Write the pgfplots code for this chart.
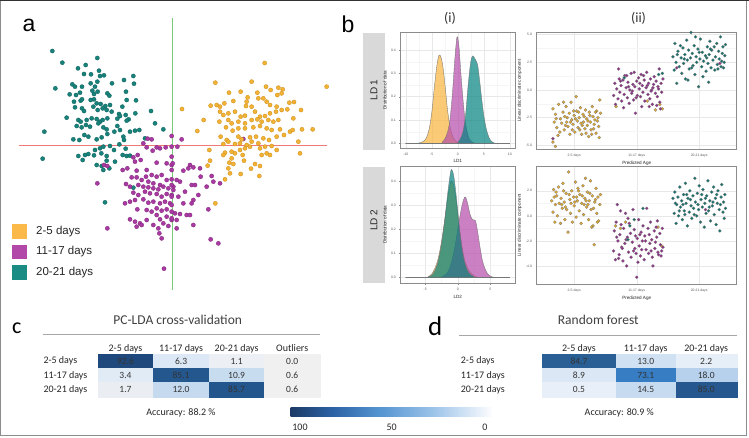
\documentclass[border=0pt]{standalone}
\usepackage{fontspec}
\setmainfont{Carlito}
\newfontfamily\arial{Liberation Sans}
\usepackage{pgfplots}
\pgfplotsset{compat=1.18}

\definecolor{lgor}{RGB}{250,185,72}
\definecolor{lgpu}{RGB}{178,73,168}
\definecolor{lgte}{RGB}{27,140,132}
\definecolor{aor}{RGB}{242,178,52}
\definecolor{aord}{RGB}{205,142,28}
\definecolor{apu}{RGB}{168,58,162}
\definecolor{apud}{RGB}{128,36,122}
\definecolor{ate}{RGB}{24,130,123}
\definecolor{ated}{RGB}{12,96,90}
\definecolor{pinkline}{RGB}{240,120,120}
\definecolor{greenline}{RGB}{120,200,120}
\definecolor{dor}{RGB}{250,180,60}
\definecolor{dpu}{RGB}{180,75,170}
\definecolor{dte}{RGB}{0,130,128}
\definecolor{sor}{RGB}{226,170,46}
\definecolor{spu}{RGB}{146,48,140}
\definecolor{ste}{RGB}{18,116,110}
\definecolor{stripgray}{RGB}{217,217,217}
% heat map cell colours, panel c
\definecolor{cA}{RGB}{31,73,125}
\definecolor{cB}{RGB}{220,232,245}
\definecolor{cC}{RGB}{236,239,243}
\definecolor{cD}{RGB}{240,240,240}
\definecolor{cE}{RGB}{225,235,246}
\definecolor{cF}{RGB}{37,87,143}
\definecolor{cG}{RGB}{200,220,240}
\definecolor{cH}{RGB}{234,237,241}
\definecolor{cI}{RGB}{198,218,239}
\definecolor{cJ}{RGB}{36,86,142}
% panel d
\definecolor{dA}{RGB}{42,95,150}
\definecolor{dB}{RGB}{208,225,243}
\definecolor{dC}{RGB}{230,238,248}
\definecolor{dD}{RGB}{220,231,245}
\definecolor{dE}{RGB}{55,125,195}
\definecolor{dF}{RGB}{183,208,236}
\definecolor{dG}{RGB}{232,239,248}
\definecolor{dH}{RGB}{198,218,240}
\definecolor{dI}{RGB}{38,88,143}

\pgfdeclarehorizontalshading{cbar}{100bp}{rgb(0bp)=(0.11,0.23,0.40); rgb(25bp)=(0.11,0.23,0.40); rgb(35bp)=(0.17,0.38,0.64); rgb(47bp)=(0.33,0.58,0.82); rgb(60bp)=(0.60,0.76,0.91); rgb(75bp)=(0.99,0.99,1); rgb(100bp)=(0.99,0.99,1)}

\pgfplotsset{
  gg/.style={scale only axis, anchor=south west,
    grid=both, major grid style={line width=0.4pt, black!9}, minor grid style={line width=0.3pt, black!4},
    axis line style={black!45, line width=0.45pt},
    tick style={black!45, line width=0.3pt}, tick align=outside,
    major tick length=1.2pt, minor tick length=0pt,
    xtick pos=bottom, ytick pos=left,
    tick label style={font=\arial\fontsize{3.4}{4}\selectfont, text=black!65},
    label style={font=\arial\fontsize{4.6}{5}\selectfont, text=black!85},
    /pgf/number format/assume math mode=true,
    xlabel style={yshift=2.2pt}, ylabel style={yshift=-2.5pt}},
  dens/.style={smooth, tension=0.5, fill opacity=0.7, draw=black!55, line width=0.35pt},
  pts/.style={only marks, mark=*, mark size=1.55pt},
  hm/.style={scale only axis, anchor=south west, ymin=0.5, ymax=3.5, height=42.7pt,
    axis line style={draw=none}, major tick length=0pt, tick style={draw=none},
    ytick={1,2,3}, yticklabels={20-21 days,11-17 days,2-5 days},
    xticklabel pos=upper,
    tick label style={font=\fontsize{10}{12}\selectfont, text=black!85},
    yticklabel style={anchor=west, inner sep=0pt},
    xticklabel style={anchor=base, inner sep=0pt, yshift=3pt},
    clip=false},
  cellb/.style={only marks, mark=square*, mark size=7.1pt, point meta=explicit symbolic,
    nodes near coords, nodes near coords align={center},
    every node near coord/.append style={font=\fontsize{9.5}{11}\selectfont, text=black!80, inner sep=0pt}}
}
\newcommand{\cell}[5]{\addplot[cellb, mark options={xscale=#1, fill=#2, draw=#2, line width=0.3pt}] coordinates {(#3,#4) [#5]};}

\begin{document}
\begin{tikzpicture}[x=1pt,y=1pt]
\useasboundingbox (0,0) rectangle (749,437);
\fill[white] (0,0) rectangle (749,437);
% horizontal reference axis of panel a
\fill[pinkline] (19,290.7) rectangle (327,291.9);

%================ panel a =================
\begin{axis}[at={(0pt,137pt)}, anchor=south west, scale only axis, width=340pt, height=300pt,
  xmin=-60, xmax=960, ymin=-120, ymax=780, y dir=reverse, hide axis, clip=false]
\addplot[fill=greenline, draw=none] coordinates {(457,-66) (459.3,-66) (459.3,750) (457,750)} -- cycle;
\addplot[only marks, mark=*, mark size=2.1pt, mark options={fill=ate, draw=ated, line width=0.3pt}] coordinates {
(97,33) (127,68) (232,54) (174,85) (197,75) (192,102) (213,103) (237,92) (240,108) (252,106)
(106,145) (157,133) (165,140) (186,140) (212,130) (232,125) (225,140) (276,130) (312,120) (340,108)
(342,131) (149,163) (168,165) (180,158) (217,152) (233,155) (222,162) (262,160) (268,167) (318,155)
(348,181) (162,185) (182,182) (186,178) (212,180) (222,178) (230,190) (242,192) (256,198) (270,195)
(320,180) (307,200) (165,202) (186,205) (192,213) (220,200) (233,210) (248,205) (260,210) (275,215)
(297,222) (317,225) (326,238) (346,220) (393,213) (140,233) (175,240) (182,245) (200,240) (215,235)
(230,237) (240,245) (248,240) (262,235) (292,236) (300,228) (320,242) (405,250) (430,268) (170,258)
(185,262) (198,255) (210,260) (235,250) (250,262) (260,268) (292,258) (300,270) (330,275) (345,272)
(358,270) (375,295) (73,275) (160,298) (178,300) (193,285) (205,290) (230,298) (245,292) (262,282)
(283,275) (310,290) (312,300) (317,326) (298,313) (250,320) (240,325) (270,318) (225,330) (205,342)
(195,345) (175,348) (188,360) (222,346) (244,340) (260,348) (282,330) (308,345) (320,348) (330,347)
(68,356) (230,375) (245,378) (260,362) (268,385) (250,390) (285,365) (255,487) (340,443)};
\addplot[only marks, mark=*, mark size=2.1pt, mark options={fill=apu, draw=apud, line width=0.3pt}] coordinates {
(383,296) (395,298) (370,310) (380,322) (410,322) (420,325) (437,322) (455,320) (398,332) (353,345)
(340,352) (345,365) (362,360) (252,375) (262,378) (308,390) (322,385) (350,392) (380,390) (410,368)
(440,370) (455,375) (335,412) (350,412) (365,420) (378,410) (395,405) (410,410) (425,405) (440,420)
(455,418) (385,425) (400,430) (420,435) (232,430) (318,432) (330,440) (355,435) (370,440) (385,442)
(400,445) (415,448) (430,440) (445,445) (460,440) (340,458) (355,465) (375,455) (390,460) (410,462)
(425,470) (440,462) (455,465) (315,490) (330,485) (345,480) (370,478) (385,488) (400,485) (420,490)
(435,485) (450,490) (352,508) (380,510) (395,515) (410,505) (425,512) (440,508) (455,515) (330,538)
(345,545) (360,550) (380,540) (410,525) (420,538) (440,530) (455,540) (350,560) (365,555) (400,555)
(415,565) (430,550) (445,558) (262,565) (418,580) (425,595) (432,686)
(455,288) (485,298) (472,320) (455,350) (458,370) (455,390) (510,375) (520,382) (505,385) (540,385)
(490,392) (542,410) (575,408) (580,425) (600,430) (560,440) (515,435) (525,435) (470,420) (480,425)
(455,435) (460,450) (495,455) (455,470) (475,470) (535,465) (520,480) (515,490) (490,490) (455,495)
(565,508) (465,520) (480,522) (500,525) (510,525) (470,540) (455,535) (520,555) (470,565) (572,598)
(595,610) (670,297)};
\addplot[only marks, mark=*, mark size=2.1pt, mark options={fill=aor, draw=aord, line width=0.3pt}] coordinates {
(734,69) (586,128) (695,125) (920,140) (627,158) (662,155) (712,158) (738,140) (752,150) (775,143)
(788,148) (785,160) (486,207) (572,197) (590,195) (600,200) (613,190) (640,183) (680,185) (678,198)
(695,200) (683,172) (715,175) (730,175) (740,185) (750,195) (770,200) (772,165) (808,188) (822,186)
(843,210) (551,240) (600,215) (610,225) (625,220) (645,215) (662,230) (675,227) (705,215) (720,230)
(735,228) (750,220) (768,215) (785,210) (802,208) (820,235) (598,245) (625,240) (635,250) (655,245)
(675,250) (695,240) (712,238) (725,245) (745,240) (760,245) (775,240) (532,273) (618,262) (638,272)
(655,265) (675,265) (700,262) (720,258) (740,265) (755,270) (780,268) (792,285) (810,275) (818,270)
(846,268) (878,268) (602,290) (620,300) (655,290) (665,298) (690,292) (708,290) (730,295) (747,300)
(770,290) (835,305) (610,312) (625,305) (645,312) (660,310) (680,315) (695,305) (715,310) (735,320)
(755,318) (568,330) (615,338) (635,335) (660,330) (675,325) (690,320) (720,325) (740,340) (770,330)
(840,340) (610,345) (635,355) (645,340) (668,345) (725,345) (750,345) (570,362) (628,368) (640,372)
(672,362) (705,372) (720,378) (563,377) (625,385) (693,386) (718,408) (630,400) (662,402) (615,418)
(586,490)};
\end{axis}
% legend of panel a
\fill[lgor] (12,198) rectangle (27,213);
\fill[lgpu] (12,178) rectangle (27,192);
\fill[lgte] (12,157) rectangle (27,172);
\node[anchor=west, inner sep=0pt, font=\arial\fontsize{11.5}{13}\selectfont, text=black!85] at (36,205) {2-5 days};
\node[anchor=west, inner sep=0pt, font=\arial\fontsize{11.5}{13}\selectfont, text=black!85] at (36,185) {11-17 days};
\node[anchor=west, inner sep=0pt, font=\arial\fontsize{11.5}{13}\selectfont, text=black!85] at (36,164) {20-21 days};
\node[anchor=base west, inner sep=0pt, font=\arial\fontsize{23}{26}\selectfont] at (22.5,405) {a};
\node[anchor=base west, inner sep=0pt, font=\arial\fontsize{23}{26}\selectfont] at (341.5,404.7) {b};

%================ panel b =================
\node[font=\fontsize{14}{16}\selectfont, text=black!80] at (450,419) {(i)};
\node[font=\fontsize{14}{16}\selectfont, text=black!80] at (638.5,419) {(ii)};
\fill[stripgray] (363,287) rectangle (385,404);
\fill[stripgray] (363,154) rectangle (385,270);
\node[rotate=90, font=\arial\fontsize{10}{12}\selectfont, text=black!85] at (374,347) {LD 1};
\node[rotate=90, font=\arial\fontsize{10}{12}\selectfont, text=black!85] at (374,217) {LD 2};

% density LD1
\begin{axis}[gg, at={(400.5pt,289pt)}, width=114.5pt, height=115.7pt,
  xmin=-11, xmax=11, ymin=-0.02, ymax=0.476,
  xtick={-10,-5,0,5,10}, ytick={0,0.1,0.2,0.3,0.4}, minor x tick num=1, minor y tick num=1,
  yticklabel style={/pgf/number format/.cd, fixed, fixed zerofill, precision=1},
  xlabel={LD1}, ylabel={Distribution of data}]
\addplot[dens, fill=dor] coordinates {(-10,0) (-8,0) (-7.5,0.001) (-7,0.004) (-6.5,0.01) (-6,0.025) (-5.5,0.06) (-5,0.13) (-4.5,0.24) (-4,0.335) (-3.6,0.378) (-3.2,0.368) (-2.8,0.32) (-2.4,0.24) (-2,0.15) (-1.6,0.085) (-1.2,0.045) (-0.8,0.022) (-0.4,0.01) (0,0.004) (0.5,0.001) (1,0) (10,0)} \closedcycle;
\addplot[dens, fill=dpu] coordinates {(-10,0) (-3.5,0) (-3,0.005) (-2.5,0.018) (-2,0.045) (-1.5,0.1) (-1,0.22) (-0.6,0.35) (-0.25,0.44) (-0.05,0.457) (0.25,0.41) (0.6,0.3) (1,0.19) (1.4,0.1) (1.8,0.05) (2.2,0.02) (2.7,0.006) (3.2,0.001) (3.7,0) (10,0)} \closedcycle;
\addplot[dens, fill=dte] coordinates {(-10,0) (-0.5,0) (0,0.005) (0.5,0.02) (1,0.05) (1.5,0.12) (2,0.25) (2.5,0.35) (2.9,0.375) (3.3,0.362) (3.8,0.338) (4.2,0.27) (4.6,0.19) (5,0.12) (5.5,0.06) (6,0.025) (6.5,0.008) (7,0.001) (7.5,0) (10,0)} \closedcycle;
\end{axis}

% density LD2
\begin{axis}[gg, at={(400.5pt,153.7pt)}, width=114.5pt, height=117.3pt,
  xmin=-8.8, xmax=8.8, ymin=-0.0235, ymax=0.464,
  xtick={-5,0,5}, ytick={0,0.1,0.2,0.3,0.4}, minor x tick num=1, minor y tick num=1,
  yticklabel style={/pgf/number format/.cd, fixed, fixed zerofill, precision=1},
  xlabel={LD2}, ylabel={Distribution of data}]
\addplot[dens, fill=dor] coordinates {(-8,0) (-5,0) (-4.5,0.005) (-4,0.015) (-3.5,0.04) (-3,0.08) (-2.5,0.15) (-2,0.24) (-1.5,0.34) (-1.1,0.395) (-0.9,0.40) (-0.6,0.38) (-0.2,0.31) (0.2,0.22) (0.6,0.14) (1,0.08) (1.5,0.04) (2,0.02) (2.5,0.008) (3,0.002) (3.5,0) (8,0)} \closedcycle;
\addplot[dens, fill=dpu] coordinates {(-8,0) (-3,0) (-2.5,0.003) (-2,0.01) (-1.5,0.025) (-1,0.06) (-0.5,0.12) (0,0.2) (0.5,0.28) (0.9,0.325) (1.2,0.335) (1.5,0.31) (1.9,0.262) (2.3,0.24) (2.7,0.238) (3,0.2) (3.4,0.13) (3.8,0.07) (4.3,0.03) (4.8,0.01) (5.5,0.001) (6,0) (8,0)} \closedcycle;
\addplot[dens, fill=dte] coordinates {(-8,0) (-5,0) (-4.5,0.003) (-4,0.01) (-3.5,0.03) (-3,0.07) (-2.5,0.14) (-2,0.24) (-1.5,0.36) (-1.1,0.44) (-0.9,0.448) (-0.6,0.42) (-0.2,0.33) (0.2,0.22) (0.6,0.13) (1,0.07) (1.5,0.03) (2,0.012) (2.5,0.004) (3,0) (8,0)} \closedcycle;
\end{axis}

% scatter LD1
\begin{axis}[gg, at={(536.7pt,288pt)}, width=200pt, height=116.7pt,
  xmin=0.4, xmax=3.6, ymin=-5.33, ymax=5.21,
  xtick={1,2,3}, xticklabels={2-5 days,11-17 days,20-21 days},
  ytick={-5,-2.5,0,2.5,5}, minor y tick num=1, minor x tick num=0,
  yticklabel style={/pgf/number format/.cd, fixed, fixed zerofill, precision=1},
  xlabel={Predicted Age}, ylabel={Linear discriminate component}]
\addplot[pts, mark options={fill=sor, draw=black!55, line width=0.2pt}] coordinates {
(0.66,-1.7) (0.70,-2.2) (0.68,-2.9) (0.72,-3.4) (0.75,-1.3) (0.78,-2.6) (0.80,-3.0) (0.74,-4.1) (0.70,-5.1) (0.66,-4.7)
(0.82,-2.0) (0.85,-2.4) (0.84,-3.6) (0.87,-1.5) (0.88,-2.9) (0.90,-3.3) (0.92,-2.1) (0.93,-4.0) (0.95,-1.1) (0.96,-2.7)
(0.98,-3.1) (1.00,-2.3) (1.01,-3.8) (1.03,-0.6) (1.04,-1.9) (1.05,-2.8) (1.06,-3.4) (1.08,-2.5) (1.10,-1.6) (1.11,-3.0)
(1.12,-4.0) (1.14,-2.2) (1.15,-2.9) (1.17,-3.5) (1.18,-1.8) (1.20,-2.6) (1.21,-3.2) (1.23,-4.2) (1.24,-2.0) (1.26,-2.9)
(1.27,-3.6) (1.29,-1.5) (1.30,-2.4) (1.32,-3.1) (1.33,-2.7) (1.35,-3.9) (1.36,-1.9) (1.38,-2.5) (1.39,-3.3) (1.41,-0.9)
(1.40,-4.3) (1.42,-2.1) (0.77,-3.8) (0.89,-2.5) (0.97,-3.6) (1.07,-2.0) (1.16,-2.4) (1.22,-2.8) (1.31,-3.5) (1.19,-3.9)
(0.83,-1.1) (0.94,-2.9) (1.02,-2.6) (1.13,-3.2) (1.25,-2.3) (1.34,-2.0) (0.71,-2.6) (1.09,-3.6) (1.28,-4.0) (0.86,-3.2)
(0.99,-1.9) (1.37,-2.8) (2.37,-1.3) (2.41,-1.7) (1.67,-1.5) (2.30,-1.8) (2.17,-1.0)};
\addplot[pts, mark options={fill=spu, draw=black!55, line width=0.2pt}] coordinates {
(1.63,-0.5) (1.65,0.6) (1.66,-1.3) (1.68,0.1) (1.70,-0.8) (1.72,1.0) (1.73,-0.2) (1.75,0.4) (1.76,-1.0) (1.78,0.9)
(1.80,-0.4) (1.81,1.3) (1.83,0.2) (1.85,-0.7) (1.86,0.7) (1.88,-1.2) (1.89,0.0) (1.91,1.5) (1.92,-0.3) (1.94,0.5)
(1.95,-0.9) (1.97,0.3) (1.98,-2.1) (2.00,0.8) (2.01,-0.5) (2.03,1.1) (2.04,0.1) (2.06,-0.6) (2.07,1.4) (2.09,0.4)
(2.10,-0.2) (2.12,0.9) (2.13,-1.0) (2.15,0.2) (2.16,1.6) (2.18,-0.4) (2.19,0.6) (2.21,-0.8) (2.22,1.0) (2.24,0.0)
(2.25,-1.3) (2.27,0.5) (2.28,1.2) (2.30,-0.3) (2.31,0.8) (2.33,-0.6) (2.34,0.3) (2.36,1.9) (2.37,-1.1) (2.39,0.6)
(2.40,-0.2) (2.42,1.0) (1.71,1.9) (1.84,1.3) (1.96,1.6) (2.08,-1.5) (2.20,-1.5) (2.32,-1.4) (2.38,-1.7) (1.79,-1.6)
(1.93,-0.1) (2.05,0.6) (2.17,0.4) (2.26,0.2) (2.35,0.1) (1.87,0.3) (1.99,-0.7) (2.11,1.3) (2.23,-0.1) (1.74,0.8)
(0.66,-4.4) (2.64,2.0) (3.33,2.4)};
\addplot[pts, mark options={fill=ste, draw=black!55, line width=0.2pt}] coordinates {
(2.58,3.0) (2.60,1.8) (2.61,4.2) (2.63,2.5) (2.64,0.6) (2.66,3.5) (2.68,2.1) (2.69,5.4) (2.71,2.9) (2.72,1.5)
(2.74,3.8) (2.75,2.4) (2.77,3.2) (2.78,1.0) (2.80,4.5) (2.81,2.7) (2.83,3.6) (2.84,1.9) (2.86,2.9) (2.87,5.2)
(2.89,3.3) (2.90,2.2) (2.92,4.0) (2.93,1.4) (2.95,3.0) (2.96,2.5) (2.98,3.7) (2.99,0.3) (3.01,2.8) (3.02,4.6)
(3.04,2.1) (3.05,3.4) (3.07,2.6) (3.08,5.5) (3.10,3.1) (3.11,1.7) (3.13,3.9) (3.14,2.4) (3.16,3.2) (3.17,4.4)
(3.19,2.0) (3.20,3.6) (3.22,2.7) (3.23,5.3) (3.25,1.8) (3.26,3.0) (3.28,4.2) (3.29,2.3) (3.31,3.5) (3.32,2.8)
(3.34,4.8) (3.35,2.1) (3.37,3.3) (3.38,3.9) (3.40,2.5) (3.41,3.1) (3.42,4.1) (2.70,4.0) (2.82,0.9) (2.94,4.8)
(3.06,1.2) (3.18,3.7) (3.30,1.9) (3.39,2.0) (2.76,2.8) (2.88,2.0) (3.00,3.4) (3.12,2.9) (3.24,3.9) (3.36,2.6)
(2.65,3.2) (3.15,0.7) (2.41,1.5) (2.35,1.4) (1.80,1.1)};
\end{axis}

% scatter LD2
\begin{axis}[gg, at={(536.7pt,153pt)}, width=200pt, height=117.5pt,
  xmin=0.4, xmax=3.6, ymin=-5.44, ymax=3.94,
  xtick={1,2,3}, xticklabels={2-5 days,11-17 days,20-21 days},
  ytick={-4,-2,0,2}, minor y tick num=1, minor x tick num=0,
  yticklabel style={/pgf/number format/.cd, fixed, fixed zerofill, precision=1},
  xlabel={Predicted Age}, ylabel={Linear discriminate component}]
\addplot[pts, mark options={fill=sor, draw=black!55, line width=0.2pt}] coordinates {
(0.64,1.2) (0.66,0.3) (0.67,2.1) (0.69,-0.5) (0.70,0.9) (0.72,1.6) (0.73,0.0) (0.75,2.3) (0.76,1.0) (0.78,-0.6)
(0.79,1.4) (0.81,0.6) (0.82,2.6) (0.84,1.1) (0.85,-0.3) (0.87,1.8) (0.88,0.5) (0.90,-1.3) (0.91,3.5) (0.93,1.3)
(0.94,0.2) (0.96,2.0) (0.97,-0.5) (0.99,1.5) (1.00,0.8) (1.02,2.7) (1.03,-0.1) (1.05,1.2) (1.06,2.2) (1.08,0.4)
(1.09,1.7) (1.11,-0.6) (1.12,1.0) (1.14,2.4) (1.15,0.1) (1.17,1.4) (1.18,3.0) (1.20,0.7) (1.21,1.9) (1.23,-0.3)
(1.24,1.2) (1.26,2.8) (1.27,0.5) (1.29,1.6) (1.30,-0.8) (1.32,-2.3) (1.33,1.1) (1.35,2.2) (1.36,0.2) (1.38,1.5)
(1.39,-0.4) (1.41,0.9) (1.42,1.7) (0.71,1.9) (0.83,2.0) (0.95,1.0) (1.04,1.5) (1.16,0.9) (1.25,1.8) (1.34,1.3)
(0.80,0.9) (0.92,1.7) (1.01,1.1) (1.13,1.6) (1.22,0.9) (1.31,0.6) (0.68,1.5) (0.86,0.7) (1.07,2.0) (1.19,1.2)
(1.37,-0.5) (1.28,-0.9) (1.66,-0.8) (1.82,-0.5) (2.34,-0.9) (2.40,-2.4) (1.74,-1.0)};
\addplot[pts, mark options={fill=spu, draw=black!55, line width=0.2pt}] coordinates {
(1.63,-2.8) (1.64,-1.2) (1.66,-3.5) (1.67,-0.5) (1.69,0.9) (1.70,-2.0) (1.72,-3.1) (1.73,-1.5) (1.75,-0.7) (1.76,-2.5)
(1.78,-3.6) (1.79,-1.0) (1.81,-2.2) (1.82,0.2) (1.84,-4.0) (1.85,-1.7) (1.87,-2.9) (1.88,-0.6) (1.90,-1.4) (1.91,-3.3)
(1.93,-2.1) (1.94,0.5) (1.96,-1.1) (1.97,-2.6) (1.99,-3.0) (2.00,-4.9) (2.01,-1.8) (2.03,-0.3) (2.04,-2.4) (2.06,-3.2)
(2.07,-1.3) (2.09,-2.0) (2.10,-0.8) (2.12,-3.5) (2.13,-1.6) (2.15,-2.7) (2.16,0.6) (2.18,-1.0) (2.19,-3.0) (2.21,-2.2)
(2.22,-0.5) (2.24,-1.9) (2.25,-3.3) (2.26,-4.0) (2.28,-1.2) (2.29,-2.6) (2.31,-0.9) (2.32,-1.7) (2.34,-2.9) (2.35,-3.1)
(2.37,-1.4) (2.38,-2.3) (2.40,-2.8) (2.41,-1.0) (2.42,-2.5) (1.68,-1.7) (1.77,-2.6) (1.86,-0.2) (1.95,-2.8) (2.05,-1.5)
(2.14,-2.0) (2.23,-2.8) (2.33,-0.4) (2.39,-3.2) (1.71,-3.4) (1.83,-1.9) (1.98,-1.6) (2.08,-2.7) (2.20,-1.5) (2.30,-2.1)
(1.74,0.4) (2.02,-3.7) (3.10,0.5)};
\addplot[pts, mark options={fill=ste, draw=black!55, line width=0.2pt}] coordinates {
(2.58,1.4) (2.60,0.2) (2.61,1.9) (2.63,-0.6) (2.64,0.9) (2.66,1.5) (2.67,0.0) (2.69,2.3) (2.70,0.7) (2.72,1.2)
(2.73,-0.3) (2.75,1.7) (2.76,0.4) (2.78,2.6) (2.79,1.0) (2.81,-0.8) (2.82,1.4) (2.84,0.3) (2.85,2.0) (2.87,0.8)
(2.88,-0.2) (2.90,1.6) (2.91,0.6) (2.93,3.0) (2.94,1.1) (2.96,0.0) (2.97,1.8) (2.99,0.5) (3.00,2.4) (3.02,-0.5)
(3.03,1.3) (3.05,0.7) (3.06,2.1) (3.08,-0.9) (3.09,1.0) (3.11,0.2) (3.12,1.6) (3.14,2.8) (3.15,0.4) (3.17,1.2)
(3.18,-0.4) (3.20,1.9) (3.21,0.8) (3.23,2.3) (3.24,0.1) (3.26,1.4) (3.27,-0.7) (3.29,1.0) (3.30,2.0) (3.32,0.5)
(3.33,-1.2) (3.35,1.5) (3.36,2.5) (3.38,0.3) (3.39,1.1) (3.41,1.7) (3.42,0.6) (2.62,1.0) (2.74,0.9) (2.86,1.3)
(2.98,0.9) (3.10,1.4) (3.22,1.1) (3.34,0.9) (2.68,0.4) (2.80,1.7) (2.92,0.1) (3.04,1.7) (3.16,0.7) (3.28,1.7)
(3.40,-0.2) (2.77,0.1) (1.86,-1.9) (1.89,-0.8) (2.10,0.6) (1.96,-0.3)};
\end{axis}

%================ panel c =================
\node[anchor=base west, inner sep=0pt, font=\fontsize{22}{26}\selectfont] at (12,103.7) {c};
\node[font=\fontsize{13.5}{16}\selectfont, text=black!75] at (177.7,117) {PC-LDA cross-validation};
\draw[black!35, line width=0.8pt] (42.7,102.7) -- (320,102.7);
\begin{axis}[hm, at={(97.7pt,40.3pt)}, width=222.3pt, xmin=0.5, xmax=4.5,
  xtick={1,2,3,4}, xticklabels={2-5 days,11-17 days,20-21 days,Outliers},
  yticklabel style={xshift=-54.4pt}]
\cell{3.915}{cA}{1}{3}{92.6}
\cell{3.915}{cB}{2}{3}{6.3}
\cell{3.915}{cC}{3}{3}{1.1}
\cell{3.915}{cD}{4}{3}{0.0}
\cell{3.915}{cE}{1}{2}{3.4}
\cell{3.915}{cF}{2}{2}{85.1}
\cell{3.915}{cG}{3}{2}{10.9}
\cell{3.915}{cD}{4}{2}{0.6}
\cell{3.915}{cH}{1}{1}{1.7}
\cell{3.915}{cI}{2}{1}{12.0}
\cell{3.915}{cJ}{3}{1}{85.7}
\cell{3.915}{cD}{4}{1}{0.6}
\end{axis}
\node[font=\fontsize{10}{12}\selectfont, text=black!85] at (181,23.7) {Accuracy: 88.2 \%};

% colour bar
\shade[shading=cbar] (290.7,20.3) rectangle (491.7,29.3);
\node[font=\fontsize{10}{12}\selectfont, text=black!85] at (300,10) {100};
\node[font=\fontsize{10}{12}\selectfont, text=black!85] at (391.7,10) {50};
\node[font=\fontsize{10}{12}\selectfont, text=black!85] at (485,10) {0};

%================ panel d =================
\node[anchor=base west, inner sep=0pt, font=\fontsize{27}{30}\selectfont] at (428,102) {d};
\node[font=\fontsize{13.5}{16}\selectfont, text=black!75] at (598.3,117) {Random forest};
\draw[black!35, line width=0.8pt] (459.3,102) -- (736.7,102);
\begin{axis}[hm, at={(542.3pt,40.3pt)}, width=194.4pt, xmin=542.3, xmax=736.7,
  xtick={579,645.7,706.2}, xticklabels={2-5 days,11-17 days,20-21 days},
  yticklabel style={xshift=-81.6pt}]
\cell{5.17}{dA}{579}{3}{84.7}
\cell{5.17}{dD}{579}{2}{8.9}
\cell{5.17}{dG}{579}{1}{0.5}
\cell{4.23}{dB}{645.7}{3}{13.0}
\cell{4.23}{dE}{645.7}{2}{73.1}
\cell{4.23}{dH}{645.7}{1}{14.5}
\cell{4.3}{dC}{706.2}{3}{2.2}
\cell{4.3}{dF}{706.2}{2}{18.0}
\cell{4.3}{dI}{706.2}{1}{85.0}
\end{axis}
\node[font=\fontsize{10}{12}\selectfont, text=black!85] at (619.3,23.7) {Accuracy: 80.9 \%};

% outer frame
\draw[black!45, line width=1pt] (0.8,1.8) rectangle (746.2,436.4);
\draw[black!80, line width=1pt] (0,436.5) -- (749,436.5);
\end{tikzpicture}
\end{document}
